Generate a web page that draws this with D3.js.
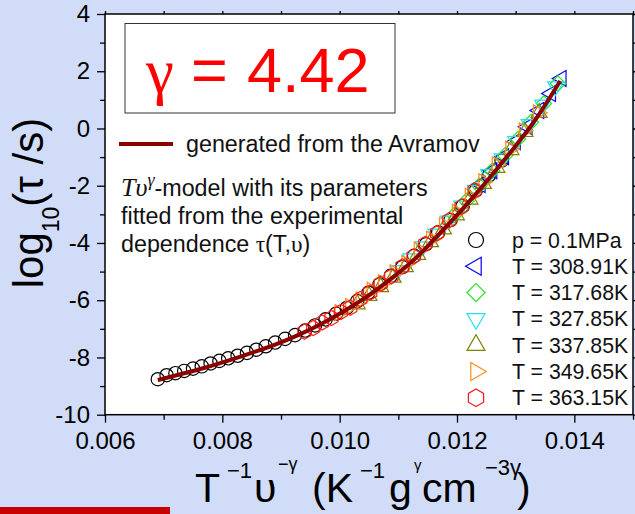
<!DOCTYPE html>
<html>
<head>
<meta charset="utf-8">
<script src="https://cdn.jsdelivr.net/npm/d3@7"></script>
<style>
  html, body { margin: 0; padding: 0; background: #d0dcf8; }
  svg { display: block; font-family: "Liberation Sans", Arial, sans-serif; }
</style>
</head>
<body>
<div id="chart"></div>
<script>
'use strict'

// tick values
const xMajor = [0.006, 0.008, 0.010, 0.012, 0.014]
const xMinor = [0.007, 0.009, 0.011, 0.013, 0.015]
const yMajor = [-10, -8, -6, -4, -2, 0, 2, 4]
const yMinor = [-9, -7, -5, -3, -1, 1, 3]

// Avramov model curve
const avramovX = [0.0069, 0.0073, 0.0077, 0.0081, 0.0085, 0.0089, 0.0093, 0.0097, 0.0101, 0.0105, 0.0109, 0.0113, 0.0117, 0.0121, 0.0125, 0.0129, 0.0133, 0.01376]
const avramovY = [-8.79, -8.58, -8.36, -8.11, -7.84, -7.55, -7.21, -6.81, -6.35, -5.82, -5.21, -4.52, -3.68, -2.80, -1.86, -0.86, 0.20, 1.66]

// experimental points
const p01X = [0.00690, 0.00705, 0.00720, 0.00735, 0.00750, 0.00765, 0.00780, 0.00795, 0.00810, 0.00826, 0.00842, 0.00858, 0.00874, 0.00890, 0.00907, 0.00924, 0.00941, 0.00958, 0.00976, 0.00994, 0.01012, 0.01030, 0.01049, 0.01068, 0.01087, 0.01107, 0.01127, 0.01147, 0.01168, 0.01189, 0.01210, 0.01232, 0.01254, 0.01276]
const p01Y = [-8.76, -8.62, -8.55, -8.47, -8.39, -8.31, -8.21, -8.12, -8.03, -7.94, -7.84, -7.73, -7.61, -7.48, -7.35, -7.22, -7.06, -6.88, -6.67, -6.47, -6.27, -6.03, -5.74, -5.45, -5.15, -4.84, -4.45, -4.05, -3.63, -3.20, -2.70, -2.17, -1.65, -1.12]

const t30891X = [0.01240, 0.01260, 0.01280, 0.01300, 0.01320, 0.01340, 0.01360, 0.01378]
const t30891Y = [-1.96, -1.48, -0.99, -0.46, 0.06, 0.63, 1.22, 1.75]

const t31768X = [0.01195, 0.01216, 0.01238, 0.01260, 0.01282, 0.01304, 0.01326, 0.01348, 0.01372]
const t31768Y = [-3.03, -2.53, -2.00, -1.48, -0.94, -0.37, 0.22, 0.87, 1.57]

const t32785X = [0.01100, 0.01121, 0.01142, 0.01164, 0.01186, 0.01208, 0.01231, 0.01254, 0.01277, 0.01300, 0.01323, 0.01346, 0.01368]
const t32785Y = [-4.95, -4.54, -4.12, -3.68, -3.22, -2.70, -2.15, -1.60, -1.05, -0.44, 0.15, 0.83, 1.47]

const t33785X = [0.01030, 0.01050, 0.01070, 0.01091, 0.01112, 0.01133, 0.01155, 0.01177, 0.01199, 0.01222, 0.01245, 0.01268, 0.01292, 0.01316, 0.01340]
const t33785Y = [-6.14, -5.85, -5.54, -5.21, -4.84, -4.41, -3.97, -3.52, -3.03, -2.48, -1.93, -1.37, -0.75, -0.12, 0.55]

const t34965X = [0.01000, 0.01018, 0.01036, 0.01055, 0.01074, 0.01094, 0.01114, 0.01135, 0.01156, 0.01178, 0.01200, 0.01222, 0.01245, 0.01268, 0.01291, 0.01314, 0.01338]
const t34965Y = [-6.43, -6.22, -5.99, -5.65, -5.39, -5.04, -4.72, -4.25, -3.87, -3.38, -2.93, -2.37, -1.86, -1.27, -0.72, -0.08, 0.55]

const t36315X = [0.00940, 0.00955, 0.00970, 0.00986, 0.01002, 0.01018, 0.01035, 0.01052, 0.01070, 0.01088, 0.01107, 0.01126, 0.01146, 0.01166, 0.01187, 0.01208, 0.01230]
const t36315Y = [-7.10, -6.97, -6.78, -6.62, -6.41, -6.26, -5.96, -5.73, -5.42, -5.17, -4.82, -4.47, -4.03, -3.66, -3.20, -2.73, -2.17]

const seriesLabels = ['p = 0.1MPa', 'T = 308.91K', 'T = 317.68K', 'T = 327.85K', 'T = 337.85K', 'T = 349.65K', 'T = 363.15K']

const width = 635
const height = 514
const margin = { left: 105, right: 2, top: 14, bottom: 99.3 }

const hexagon = {
  draw: function(context, size) {
    const r = Math.sqrt(size / (3 * Math.sqrt(3) / 2))
    for (let i = 0; i < 6; i++) {
      const a = Math.PI / 3 * i - Math.PI / 2
      if (i === 0) context.moveTo(r * Math.cos(a), r * Math.sin(a))
      else context.lineTo(r * Math.cos(a), r * Math.sin(a))
    }
    context.closePath()
  }
}

const series = [
  { xs: p01X, ys: p01Y, type: d3.symbolCircle, rot: 0, color: '#000000', size: 140, lsize: 177 },
  { xs: t30891X, ys: t30891Y, type: d3.symbolTriangle, rot: -90, color: '#0000ff', size: 110, lsize: 140 },
  { xs: t31768X, ys: t31768Y, type: d3.symbolSquare, rot: 45, color: '#22e622', size: 120, lsize: 165 },
  { xs: t32785X, ys: t32785Y, type: d3.symbolTriangle, rot: 180, color: '#22e0f0', size: 110, lsize: 140 },
  { xs: t33785X, ys: t33785Y, type: d3.symbolTriangle, rot: 0, color: '#808000', size: 110, lsize: 140 },
  { xs: t34965X, ys: t34965Y, type: d3.symbolTriangle, rot: 90, color: '#ff8c1a', size: 110, lsize: 140 },
  { xs: t36315X, ys: t36315Y, type: hexagon, rot: 0, color: '#ff1a1a', size: 150, lsize: 200 }
]

const svg = d3.select('#chart')
  .append('svg')
  .attr('width', width)
  .attr('height', height)

const x = d3.scaleLinear()
  .domain([0.006, 0.015])
  .range([margin.left, width - margin.right])

const y = d3.scaleLinear()
  .domain([-10, 4])
  .range([height - margin.bottom, margin.top])

// background
svg.append('rect').attr('width', width).attr('height', height).attr('fill', '#d0dcf8')
svg.append('rect').attr('x', 0).attr('y', 507).attr('width', 170).attr('height', 7).attr('fill', '#c80000')

svg.append('rect')
  .attr('x', x(0.006)).attr('y', y(4))
  .attr('width', x(0.015) - x(0.006)).attr('height', y(-10) - y(4))
  .attr('fill', '#ffffff')

// axes
const styleAxis = function(g) {
  g.select('.domain').remove()
  g.selectAll('.tick line').attr('stroke', '#000').attr('stroke-width', 1.3)
  g.selectAll('.tick text').attr('fill', '#000').attr('font-size', 24)
    .attr('font-family', '"Liberation Sans", Arial, sans-serif')
}

svg.append('g')
  .attr('transform', 'translate(0,' + y(-10) + ')')
  .call(d3.axisBottom(x).tickValues(xMajor).tickSize(8).tickPadding(9).tickFormat(d3.format('.3f')))
  .call(styleAxis)
svg.append('g')
  .attr('transform', 'translate(0,' + y(-10) + ')')
  .call(d3.axisBottom(x).tickValues(xMinor).tickSize(5).tickFormat(''))
  .call(styleAxis)
svg.append('g')
  .attr('transform', 'translate(0,' + y(4) + ')')
  .call(d3.axisTop(x).tickValues(xMajor.concat(xMinor)).tickSize(3).tickFormat(''))
  .call(styleAxis)

svg.append('g')
  .attr('transform', 'translate(' + x(0.006) + ',0)')
  .call(d3.axisLeft(y).tickValues(yMajor).tickSize(8).tickPadding(7).tickFormat(d => String(d)))
  .call(styleAxis)
svg.append('g')
  .attr('transform', 'translate(' + x(0.006) + ',0)')
  .call(d3.axisLeft(y).tickValues(yMinor).tickSize(5).tickFormat(''))
  .call(styleAxis)
svg.append('g')
  .attr('transform', 'translate(' + x(0.015) + ',0)')
  .call(d3.axisRight(y).tickValues(yMajor.concat(yMinor)).tickSize(3).tickFormat(''))
  .call(styleAxis)

// frame
svg.append('rect')
  .attr('x', x(0.006)).attr('y', y(4))
  .attr('width', x(0.015) - x(0.006)).attr('height', y(-10) - y(4))
  .attr('fill', 'none').attr('stroke', '#000').attr('stroke-width', 1.5)

// points
const sym = d3.symbol()
series.forEach(function(s) {
  svg.append('g')
    .selectAll('path')
    .data(s.xs.map((v, i) => [v, s.ys[i]]))
    .enter()
    .append('path')
    .attr('d', sym.type(s.type).size(s.size)())
    .attr('transform', d => 'translate(' + x(d[0]) + ',' + y(d[1]) + ') rotate(' + s.rot + ')')
    .attr('fill', 'none')
    .attr('stroke', s.color)
    .attr('stroke-width', 1.2)
})

// Avramov line
const line = d3.line()
  .x(d => x(d[0]))
  .y(d => y(d[1]))
  .curve(d3.curveMonotoneX)

svg.append('path')
  .datum(avramovX.map((v, i) => [v, avramovY[i]]))
  .attr('d', line)
  .attr('fill', 'none')
  .attr('stroke', '#8b0000')
  .attr('stroke-width', 4)

// gamma box
svg.append('rect')
  .attr('x', 125).attr('y', 23.5).attr('width', 270).attr('height', 89.5)
  .attr('fill', '#fff').attr('stroke', '#333').attr('stroke-width', 1)
const gt = svg.append('text').attr('y', 92).attr('fill', '#ff0000').attr('font-size', 63)
gt.append('tspan').attr('x', 146).attr('font-family', '"Liberation Serif", serif').text('γ')
gt.append('tspan').attr('x', 191).text('=')
gt.append('tspan').attr('x', 247).text('4.42')

// model legend
svg.append('line')
  .attr('x1', 119).attr('x2', 173).attr('y1', 144).attr('y2', 144)
  .attr('stroke', '#8b0000').attr('stroke-width', 4)
svg.append('text').attr('x', 186).attr('y', 152).attr('font-size', 23.3).attr('fill', '#111')
  .text('generated from the Avramov')

const l1 = svg.append('text').attr('x', 121).attr('y', 196).attr('font-size', 23.3).attr('fill', '#111')
l1.append('tspan').attr('font-family', '"Liberation Serif", serif').attr('font-style', 'italic')
  .attr('font-size', 26).text('Tυ')
l1.append('tspan').attr('font-family', '"Liberation Serif", serif').attr('font-style', 'italic')
  .attr('font-size', 18).attr('dy', -10).text('γ')
l1.append('tspan').attr('dy', 10).text('-model with its parameters')

svg.append('text').attr('x', 121).attr('y', 224).attr('font-size', 23.3).attr('fill', '#111')
  .text('fitted from the experimental')

const l3 = svg.append('text').attr('x', 121).attr('y', 252).attr('font-size', 23.3).attr('fill', '#111')
l3.append('tspan').text('dependence ')
l3.append('tspan').attr('font-family', '"Liberation Serif", serif').text('τ')
l3.append('tspan').text('(T,')
l3.append('tspan').attr('font-family', '"Liberation Serif", serif').text('υ')
l3.append('tspan').text(')')

// series legend
seriesLabels.forEach(function(lab, i) {
  const s = series[i]
  const cy = 240 + i * 26.3
  svg.append('path')
    .attr('d', sym.type(s.type).size(s.lsize)())
    .attr('transform', 'translate(476,' + cy + ') rotate(' + s.rot + ')')
    .attr('fill', 'none').attr('stroke', s.color).attr('stroke-width', 1.2)
  svg.append('text').attr('x', 512).attr('y', cy + 7.5).attr('font-size', 21.3).attr('fill', '#111')
    .text(lab)
})

// axis titles
const xt = svg.append('text').attr('y', 502).attr('font-size', 41).attr('fill', '#000')
xt.append('tspan').attr('x', 195).text('T')
xt.append('tspan').attr('x', 227).attr('y', 478).attr('font-size', 22).text('−1')
xt.append('tspan').attr('x', 254).attr('y', 502).text('υ')
xt.append('tspan').attr('x', 278).attr('y', 470).attr('font-size', 18).text('−γ')
xt.append('tspan').attr('x', 312).attr('y', 502).text('(K')
xt.append('tspan').attr('x', 360).attr('y', 478).attr('font-size', 22).text('−1')
xt.append('tspan').attr('x', 389).attr('y', 502).text('g')
xt.append('tspan').attr('x', 414).attr('y', 470).attr('font-size', 15).text('γ')
xt.append('tspan').attr('x', 422).attr('y', 502).text('cm')
xt.append('tspan').attr('x', 485).attr('y', 475).attr('font-size', 22).text('−3γ')
xt.append('tspan').attr('x', 517).attr('y', 502).text(')')

const yt = svg.append('text')
  .attr('transform', 'translate(43,203) rotate(-90)')
  .attr('text-anchor', 'middle')
  .attr('font-size', 42).attr('fill', '#000')
yt.append('tspan').text('log')
yt.append('tspan').attr('font-size', 23).attr('dy', 16).text('10')
yt.append('tspan').attr('dy', -16).text('(τ /s)')
</script>
</body>
</html>
